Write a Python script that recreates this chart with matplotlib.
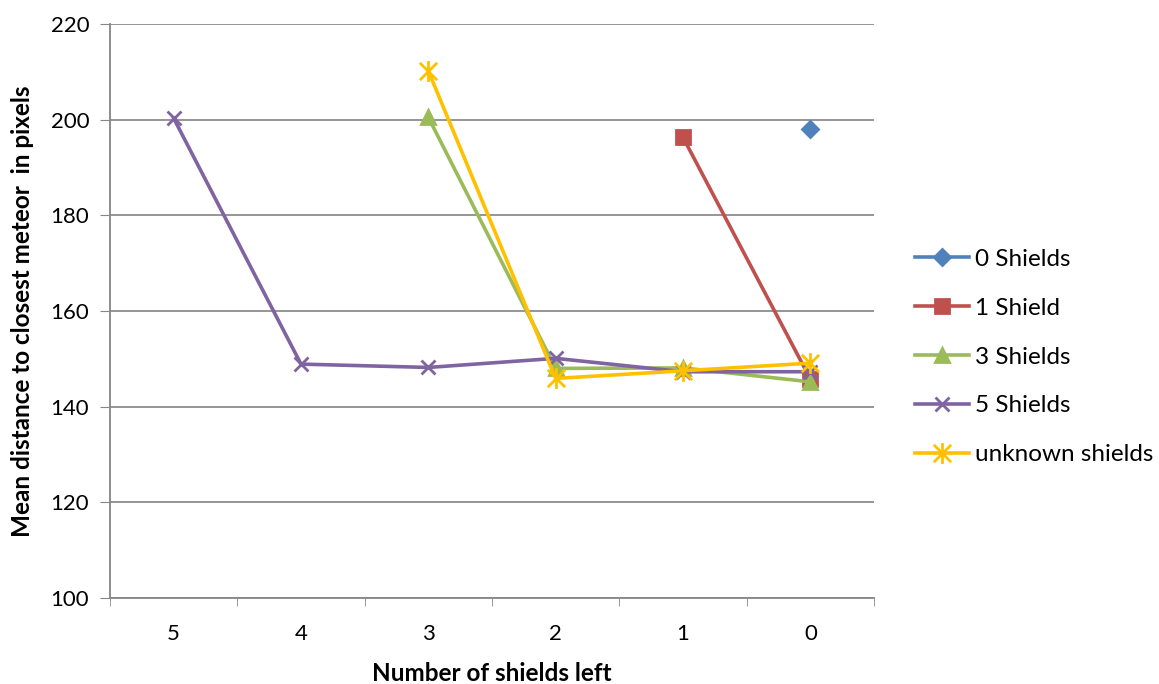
import numpy as np
import matplotlib
matplotlib.use("Agg")
import matplotlib.pyplot as plt
from matplotlib.path import Path

categories = ["5", "4", "3", "2", "1", "0"]
nan = np.nan
shields_0 = [nan, nan, nan, nan, nan, 198.0]
shields_1 = [nan, nan, nan, nan, 196.3, 145.8]
shields_3 = [nan, nan, 200.5, 148.0, 148.1, 145.2]
shields_5 = [200.3, 148.9, 148.2, 150.1, 147.3, 147.3]
shields_unknown = [nan, nan, 210.2, 145.9, 147.5, 149.1]

series = [
    ("0 Shields", shields_0, "#4F81BD", "D", 8),
    ("1 Shield", shields_1, "#C0504D", "s", 10),
    ("3 Shields", shields_3, "#9BBB59", "^", 10),
    ("5 Shields", shields_5, "#8064A2", "x", 10),
    ("unknown shields", shields_unknown, "#FFC000", None, 15),
]

# Excel-style star: an x with a vertical stroke through it
star = Path([(-0.5, -0.5), (0.5, 0.5), (-0.5, 0.5), (0.5, -0.5), (0, -0.6), (0, 0.6)],
            [Path.MOVETO, Path.LINETO, Path.MOVETO, Path.LINETO, Path.MOVETO, Path.LINETO])

plt.rcParams["font.family"] = ["Lato", "DejaVu Sans"]
fig = plt.figure(figsize=(11.59, 6.84), dpi=100)
ax = fig.add_axes([110 / 1159, 1 - 598 / 684, (874 - 110) / 1159, (598 - 24) / 684])

x = np.arange(len(categories))
for label, vals, color, mk, ms in series:
    m = star if mk is None else mk
    ax.plot(x, vals, color=color, lw=2.6, marker=m, ms=ms, mfc=color, mec=color,
            mew=2.0, label=label)

ax.set_xlim(-0.5, len(categories) - 0.5)
ax.set_ylim(100, 220)
ax.set_yticks(np.arange(100, 221, 20))
ax.set_xticks(x)
ax.set_xticklabels(categories)
ax.set_xticks(np.arange(-0.5, len(categories), 1), minor=True)
ax.tick_params(axis="x", which="major", length=0, pad=19, labelsize=16)
ax.tick_params(axis="x", which="minor", length=6, color="#868686", direction="out")
ax.tick_params(axis="y", length=7, color="#868686", direction="out", pad=8, labelsize=16)
ax.grid(axis="y", color="#8c8c8c", lw=1.3)
ax.set_axisbelow(True)
for s in ["top", "right"]:
    ax.spines[s].set_visible(False)
for s in ["left", "bottom"]:
    ax.spines[s].set_color("#868686")
    ax.spines[s].set_linewidth(1.3)

ax.set_xlabel("Number of shields left", fontsize=17.5, fontweight="bold", labelpad=13)
ax.set_ylabel("Mean distance to closest meteor  in pixels", fontsize=17.5, fontweight="bold", labelpad=12)

fig.legend(loc="center left", bbox_to_anchor=(903 / 1159, 1 - 357 / 684), frameon=False,
           fontsize=17.5, handlelength=2.2, handletextpad=0.25, labelspacing=1.15, borderpad=0)

fig.savefig("out.png", dpi=100)
